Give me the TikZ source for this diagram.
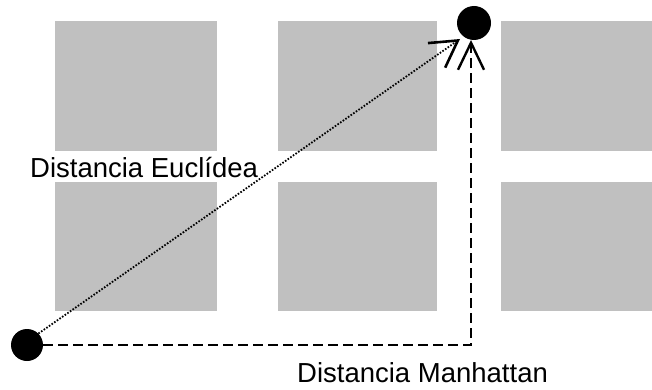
\documentclass[tikz,border=0pt]{standalone}
\usepackage{fontspec}
\setmainfont{Liberation Sans}
\usetikzlibrary{arrows.meta}
\definecolor{blockgray}{RGB}{192,192,192}
\tikzset{
  block/.style={fill=blockgray, draw=none},
  point/.style={circle, fill=black, draw=none, inner sep=0pt},
  label/.style={anchor=base west, inner sep=0pt, font=\fontsize{27.5}{32}\selectfont},
  eucl/.style={line width=1.8pt, dash pattern=on 1.6pt off 1.6pt,
    -{Straight Barb[length=26pt,width=30pt,line width=2.6pt]}},
  manh/.style={line width=2.4pt, dash pattern=on 10pt off 5pt,
    -{Straight Barb[length=27pt,width=26pt,line width=2.4pt]}}
}
\begin{document}
\begin{tikzpicture}[x=1pt,y=1pt]
  \useasboundingbox (0,0) rectangle (652,389);
  % city blocks
  \foreach \xa/\xb in {55/217, 278/437, 501/652}{
    \fill[block] (\xa,238) rectangle (\xb,368);
    \fill[block] (\xa,78) rectangle (\xb,207);
  }
  % origin and destination
  \node[point, minimum size=32pt] (A) at (27,44) {};
  \node[point, minimum size=34pt] (B) at (474,366) {};
  \coordinate (eTip) at (460,350);
  \coordinate (mTip) at (471,349);
  % straight-line route
  \draw[eucl] (A.north east) -- (eTip);
  % grid route
  \draw[manh] (A.east) -| (mTip);
  % captions
  \node[label] (le) at (30,212) {Distancia Euclídea};
  \node[label] (lm) at (297,7) {Distancia Manhattan};
\end{tikzpicture}
\end{document}
